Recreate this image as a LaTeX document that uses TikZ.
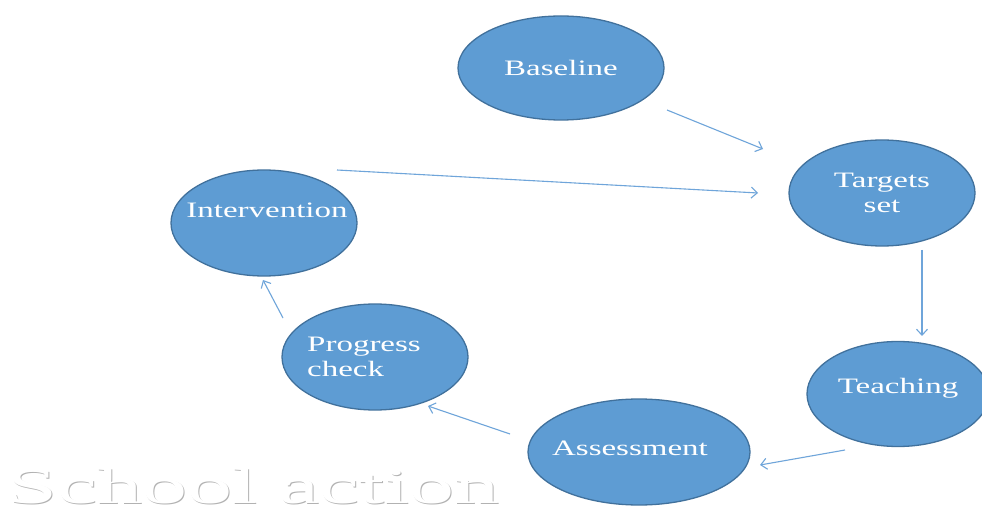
\documentclass[tikz,border=0pt]{standalone}
\usepackage{fontspec}
\setmainfont{Liberation Serif}
\newfontfamily\bubblefont[FakeStretch=1.5]{Liberation Serif}
\newfontfamily\titlefont[FakeStretch=1.8]{Liberation Serif}
\usetikzlibrary{arrows.meta,shapes.geometric}

\definecolor{bubblefill}{HTML}{5E9CD3}
\definecolor{bubbleline}{HTML}{41719C}
\definecolor{flowline}{HTML}{6FA5DA}

\tikzset{
  bubble/.style={ellipse, draw=bubbleline, fill=bubblefill, line width=1.3pt, inner sep=0pt},
  bubbletext/.style={text=white, font=\bubblefont\fontsize{22}{25}\selectfont, align=center, inner sep=0pt},
  flow/.style={draw=flowline, line width=1.1pt, -{Straight Barb[length=6pt,width=11pt]}},
  titletext/.style={anchor=base west, inner sep=0pt, text depth=0pt, font=\titlefont\fontsize{50}{50}\selectfont},
}

\begin{document}
\begin{tikzpicture}[x=1pt,y=-1pt]
  \useasboundingbox (0,0) rectangle (982,510);
  \clip (0,0) rectangle (982,510);
  \fill[white] (0,0) rectangle (982,510);

  % cycle stages
  \node[bubble, minimum width=206pt, minimum height=104pt] (baseline) at (561,68) {};
  \node[bubble, minimum width=186pt, minimum height=106pt] (targets) at (882,193) {};
  \node[bubble, minimum width=182pt, minimum height=105pt] (teaching) at (898,394) {};
  \node[bubble, minimum width=222pt, minimum height=106pt] (assessment) at (639,452) {};
  \node[bubble, minimum width=186pt, minimum height=106pt] (progress) at (375,357) {};
  \node[bubble, minimum width=186pt, minimum height=106pt] (intervention) at (264,223) {};

  % stage labels
  \node[bubbletext] (baseline-t) at (561,68) {Baseline};
  \node[bubbletext] (targets-t) at (882,193) {Targets\\set};
  \node[bubbletext] (teaching-t) at (898,388) {Teaching};
  \node[bubbletext] (assessment-t) at (630,448) {Assessment};
  \node[bubbletext, align=left] (progress-t) at (364,357) {Progress\\check};
  \node[bubbletext] (intervention-t) at (267,210) {Intervention};

  % connector end points
  \coordinate (b-out) at (667,110);
  \coordinate (t-in1) at (763,149);
  \coordinate (i-out) at (337,170);
  \coordinate (t-in2) at (758,193);
  \coordinate (t-out) at (922,250);
  \coordinate (te-in) at (922,336);
  \coordinate (te-out) at (845,450);
  \coordinate (a-in) at (760,465);
  \coordinate (a-out) at (510,434);
  \coordinate (p-in) at (428,406);
  \coordinate (p-out) at (283,318);
  \coordinate (i-in) at (263,280);

  \draw[flow] (b-out) -- (t-in1);
  \draw[flow] (i-out) -- (t-in2);
  \draw[flow] (t-out) -- (te-in);
  \draw[flow] (te-out) -- (a-in);
  \draw[flow] (a-out) -- (p-in);
  \draw[flow] (p-out) -- (i-in);

  % embossed title
  \node[titletext, text=black!30] (title-shadow) at (8.2,504.2) {School action};
  \node[titletext, text=white] (title) at (7,503) {School action};
\end{tikzpicture}
\end{document}
